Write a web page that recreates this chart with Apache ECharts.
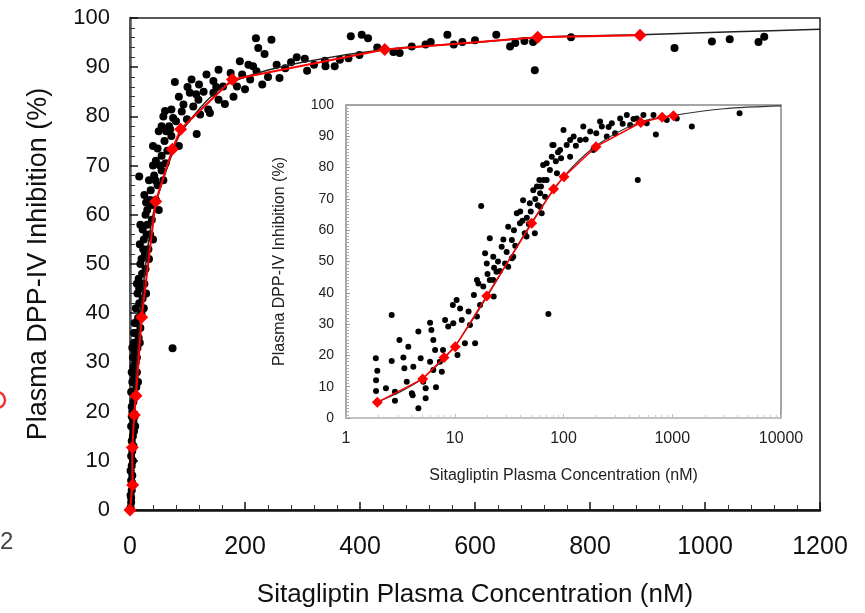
<!DOCTYPE html>
<html>
<head>
<meta charset="utf-8">
<script src="https://cdn.jsdelivr.net/npm/echarts@6/dist/echarts.min.js"></script>
<style>
  html, body { margin: 0; padding: 0; background: #fff; }
  #chart { width: 865px; height: 613px; }
</style>
</head>
<body>
<div id="chart"></div>
<script>
// main panel: linear concentration axis
const mainXTicks = [0, 200, 400, 600, 800, 1000, 1200]
const yTicks = [0, 10, 20, 30, 40, 50, 60, 70, 80, 90, 100]

// individual observations [conc nM, inhibition %]
const mainObs = [
  [1,0.5],[2,1.5],[1,3],[3,4],[2,6],[4,7],[1,8],[3,9],[5,10],[2,2.5],[4,5.5],
  [2,11],[4,12],[6,13],[3,14],[5,15],[7,16],[2,17],[6,18],[8,19],[4,20],[9,17],[3,19],
  [3,21],[6,22],[9,23],[5,24],[11,25],[4,26],[8,27],[12,28],[6,29],[10,30],[2,24],[14,26],
  [5,31],[9,32],[13,33],[7,34],[15,35],[10,36],[18,37],[8,38],[14,39],[20,40],[4,33],[12,31],[17,34],
  [10,41],[16,42],[22,43],[13,44],[19,45],[25,46],[15,47],[21,48],[27,49],[18,50],[12,46],[24,41],[28,44],
  [20,51],[26,52],[32,53],[17,54],[24,55],[35,56],[22,57],[30,58],[38,59],[27,60],[18,58],[33,51],[40,55],
  [30,61],[38,62],[45,63],[25,64],[36,65],[48,66],[33,67],[42,68],[55,69],[40,70],[16,67.8],[50,61],[28,62.5],[58,67],
  [45,71],[55,72],[65,73],[40,74],[60,75],[72,76],[50,77],[68,78],[80,79],[58,80],[116,76.4],[99,79.4],[75,79.7],[55,78],[70,77.4],[85,74],[62,70.5],[48,73.5],
  [61,81.1],[72,81.4],[93,82.4],[119,83.4],[136,81.4],[154,83.4],[122,80.4],[139,80.7],[104,84.8],[145,84.8],[85,84],[110,82],[128,85],[165,82.5],
  [78,87],[107,87.5],[133,88.5],[154,89.5],[162,86.1],[209,87.5],[200,85.5],[186,86.1],[240,88],[120,86.5],[175,88.8],[220,89.2],[260,87.8],[145,87.2],[195,88.5],[230,86.5],
  [191,91.2],[206,90.5],[214,90.2],[255,90.5],[234,92.7],[223,93.9],[219,95.9],[246,95.6],[280,91],[270,89.8],[290,92],[304,91.7],[308,89.3],[320,90.5],
  [339,91.3],[340,90.2],[356,90.2],[365,91.5],[380,91.8],[399,92.5],[384,96.3],[403,96.6],[414,95.9],[458,93.1],[469,92.9],[514,94.6],[523,95.1],
  [552,96.6],[563,94.6],[578,95.1],[637,96.6],[661,94.2],[670,94.9],[686,95.3],[701,95.1],[704,89.4],[767,96.1],[947,93.9],[1012,95.2],[1043,95.7],
  [1093,95.1],[1103,96.2],[74,32.9],[430,94],[490,94.2],[600,95.5],
  [3,28],[7,36],[11,38],[16,45],[23,53],[29,56],[35,63],[44,67],[52,70],[63,77],[90,81],[100,86],[150,86],[180,84],[115,84.5]
]
// mean values (red)
const mainMeanConc = [0, 4.6, 4, 7.5, 10.4, 20.3, 44.7, 73.6, 88, 178, 443, 709, 887]
const mainMeanInhib = [0, 5.1, 12.7, 19.3, 23.2, 39.2, 62.7, 73.3, 77.4, 87.5, 93.6, 96.1, 96.5]
// fitted Emax curve
const mainFitConc = [0, 5, 10, 20, 40, 75, 90, 150, 200, 300, 443, 600, 709, 887, 1050, 1200]
const mainFitInhib = [0, 15, 27, 42, 60, 73, 77, 85, 88, 91, 93.6, 95, 96.1, 96.6, 97.2, 97.7]

// inset panel: log concentration axis
const insetXTicks = [1, 10, 100, 1000, 10000]
const insetObs = [
  [1.88,19.1],[1.94,15.1],[1.89,12.1],[1.89,8.6],[2.63,32.9],[2.63,18.2],[2.33,9.5],[2.82,8.4],[2.82,5.5],[3.1,24.9],
  [3.37,19.3],[3.44,15.9],[3.74,22.8],[3.62,11.6],[4.03,7.9],[4.1,7.3],[4.63,3.1],[4.16,16.4],[4.63,27.6],[4.86,19.1],
  [5.13,11.6],[5.4,6.3],[5.4,9.5],[5.93,30.4],[6.1,28.1],[5.93,18],[6.35,15.3],[6.72,9.8],[6.35,24.9],[6.6,21.7],
  [8.15,31.3],[8.7,29.2],[7.8,21.7],[7.6,14.8],[7.3,18],[9.6,36.1],[10.4,37.7],[9.7,30.3],[10.6,20.1],[11.6,31.3],
  [11.2,35],[12.4,23.9],[13.4,34],[15,39.3],[13.8,29.7],[15.4,23.9],[16,32.4],[17.1,36.1],[16.5,43],[18.3,42],
  [21,44.1],[22.8,38.8],[72.6,33.2],[17.5,67.7],[21,57.4],[19,52.6],[19.7,49.4],[22.6,51.5],[16,44.1],[22.6,44.1],
  [24.2,46.7],[27,54.7],[31,61.1],[33.5,56.9],[34.5,51.5],[37.2,65.4],[39.8,62.2],[42.5,69.6],[44,59],[49,68.6],
  [52.7,72.8],[54.5,59],[60,76],[63,65.4],[65,80.8],[67.7,70.7],[75,79.2],[81,87.2],[87,78.2],[89,84.9],
  [45.7,58],[29,49.4],[31,48.3],[33.5,51],[61,71.8],[70,81.4],[79,87.2],[93,85.6],[107,87.2],[124,89.9],
  [115,83.5],[142,88.8],[152,93.1],[176,91.5],[188,85.6],[217,94.7],[225,93.1],[250,89.9],[278,94.2],[298,91],
  [332,95.7],[382,96.8],[410,93.6],[472,95.7],[543,96.8],[583,94.2],[672,96.8],[891,95.2],[1100,95.7],[707,90.6],
  [1513,93.1],[4160,97.4],[482,76],[61,67.5],[65.5,76],[78,83.5],[100,92],[115,88.8],
  [25,50],[28,57],[35,60],[40,66],[46,64],[55,70],[58,68],[48,62],[36,55],[30,53],[26,47],[23,48],[20,46],
  [42,63],[50,66],[57,74],[62,74],[70,76],[85,82],[95,83],[130,87],[160,89],[200,91],[260,93],[350,94],[440,95.5]
]
const insetMeanConc = [1.94, 5.07, 7.97, 10.1, 19.7, 51, 81, 101, 199, 514, 807, 1025]
const insetMeanInhib = [5.0, 12.5, 19.3, 22.8, 39, 62.2, 73.2, 77.1, 86.7, 94.4, 96.1, 96.6]
const insetFitConc = [1.9, 3, 5, 10, 20, 50, 100, 200, 500, 1000, 3000, 10000]
const insetFitInhib = [5, 8, 12.5, 23, 39, 62, 77, 87, 94.5, 96.6, 98.8, 99.7]

const xTitle = 'Sitagliptin Plasma Concentration (nM)'
const yTitle = 'Plasma DPP-IV Inhibition (%)'
const font = 'Liberation Sans, Arial, sans-serif'

const zip = (a, b) => a.map((v, i) => [v, b[i]])
const plain = v => String(Math.round(v))

const chart = echarts.init(document.getElementById('chart'))
chart.setOption({
  animation: false,
  backgroundColor: '#fff',
  textStyle: { fontFamily: font },
  grid: [
    { left: 130, top: 18, width: 690, height: 495, show: true, borderColor: '#222', borderWidth: 1.5 },
    { left: 346, top: 105, width: 435, height: 313, show: true, borderColor: '#888', borderWidth: 1.5, backgroundColor: '#fff', z: 5 }
  ],
  xAxis: [
    {
      gridIndex: 0, type: 'value', min: mainXTicks[0], max: mainXTicks[mainXTicks.length - 1], interval: 200,
      name: xTitle, nameLocation: 'middle', nameGap: 72,
      nameTextStyle: { fontSize: 26, color: '#111', fontFamily: font },
      axisLine: { lineStyle: { color: '#111', width: 2.5 } },
      axisTick: { inside: true, length: 8, lineStyle: { color: '#111', width: 1.5 } },
      minorTick: { show: true, splitNumber: 5, length: 5, lineStyle: { color: '#333' } },
      axisLabel: { fontSize: 25, color: '#111', margin: 25, formatter: plain },
      splitLine: { show: false }
    },
    {
      gridIndex: 1, type: 'log', logBase: 10, min: insetXTicks[0], max: insetXTicks[insetXTicks.length - 1],
      name: xTitle, nameLocation: 'middle', nameGap: 50,
      nameTextStyle: { fontSize: 16, color: '#222', fontFamily: font },
      axisLine: { lineStyle: { color: '#ccc', width: 1.5 } },
      axisTick: { inside: true, length: 4, lineStyle: { color: '#bbb' } },
      minorTick: { show: true, splitNumber: 9, length: 3, lineStyle: { color: '#ccc' } },
      axisLabel: { fontSize: 16, color: '#222', margin: 13, formatter: plain },
      splitLine: { show: false }, z: 6
    }
  ],
  yAxis: [
    {
      gridIndex: 0, type: 'value', min: yTicks[0], max: yTicks[yTicks.length - 1], interval: 10,
      name: yTitle, nameLocation: 'middle', nameGap: 78,
      nameTextStyle: { fontSize: 27, color: '#111', fontFamily: font },
      axisLine: { lineStyle: { color: '#555', width: 2.5 } },
      axisTick: { inside: true, length: 8, lineStyle: { color: '#111', width: 1.5 } },
      minorTick: { show: true, splitNumber: 5, length: 5, lineStyle: { color: '#333' } },
      axisLabel: { fontSize: 22, color: '#111', margin: 20 },
      splitLine: { show: false }
    },
    {
      gridIndex: 1, type: 'value', min: yTicks[0], max: yTicks[yTicks.length - 1], interval: 10,
      name: yTitle, nameLocation: 'middle', nameGap: 58,
      nameTextStyle: { fontSize: 16, color: '#222', fontFamily: font },
      axisLine: { lineStyle: { color: '#aaa', width: 1.5 } },
      axisTick: { inside: true, length: 4, lineStyle: { color: '#999' } },
      minorTick: { show: true, splitNumber: 10, length: 3, lineStyle: { color: '#aaa' } },
      axisLabel: { fontSize: 14, color: '#222', margin: 12 },
      splitLine: { show: false }, z: 6
    }
  ],
  graphic: [
    { type: 'circle', shape: { cx: -3, cy: 400, r: 8 }, style: { fill: 'none', stroke: '#e33', lineWidth: 2.5 } },
    { type: 'text', left: 0, top: 530, style: { text: '2', fontSize: 24, fill: '#444', fontFamily: font } }
  ],
  series: [
    {
      type: 'scatter', xAxisIndex: 0, yAxisIndex: 0, data: mainObs,
      symbolSize: 8, itemStyle: { color: '#000', opacity: 1 }, z: 2
    },
    {
      type: 'line', xAxisIndex: 0, yAxisIndex: 0, data: zip(mainFitConc, mainFitInhib),
      showSymbol: false, smooth: 0.3, lineStyle: { color: '#222', width: 1.5 }, z: 3
    },
    {
      type: 'line', xAxisIndex: 0, yAxisIndex: 0, data: zip(mainMeanConc, mainMeanInhib),
      symbol: 'diamond', symbolSize: 13, lineStyle: { color: '#ff0000', width: 2 },
      itemStyle: { color: '#ff0000' }, z: 4
    },
    {
      type: 'scatter', xAxisIndex: 1, yAxisIndex: 1, data: insetObs,
      symbolSize: 6, itemStyle: { color: '#000', opacity: 1 }, z: 7
    },
    {
      type: 'line', xAxisIndex: 1, yAxisIndex: 1, data: zip(insetFitConc, insetFitInhib),
      showSymbol: false, smooth: 0.3, lineStyle: { color: '#333', width: 1.2 }, z: 8
    },
    {
      type: 'line', xAxisIndex: 1, yAxisIndex: 1, data: zip(insetMeanConc, insetMeanInhib),
      symbol: 'diamond', symbolSize: 11, lineStyle: { color: '#ff0000', width: 1.5 },
      itemStyle: { color: '#ff0000' }, z: 9
    }
  ]
})
</script>
</body>
</html>
